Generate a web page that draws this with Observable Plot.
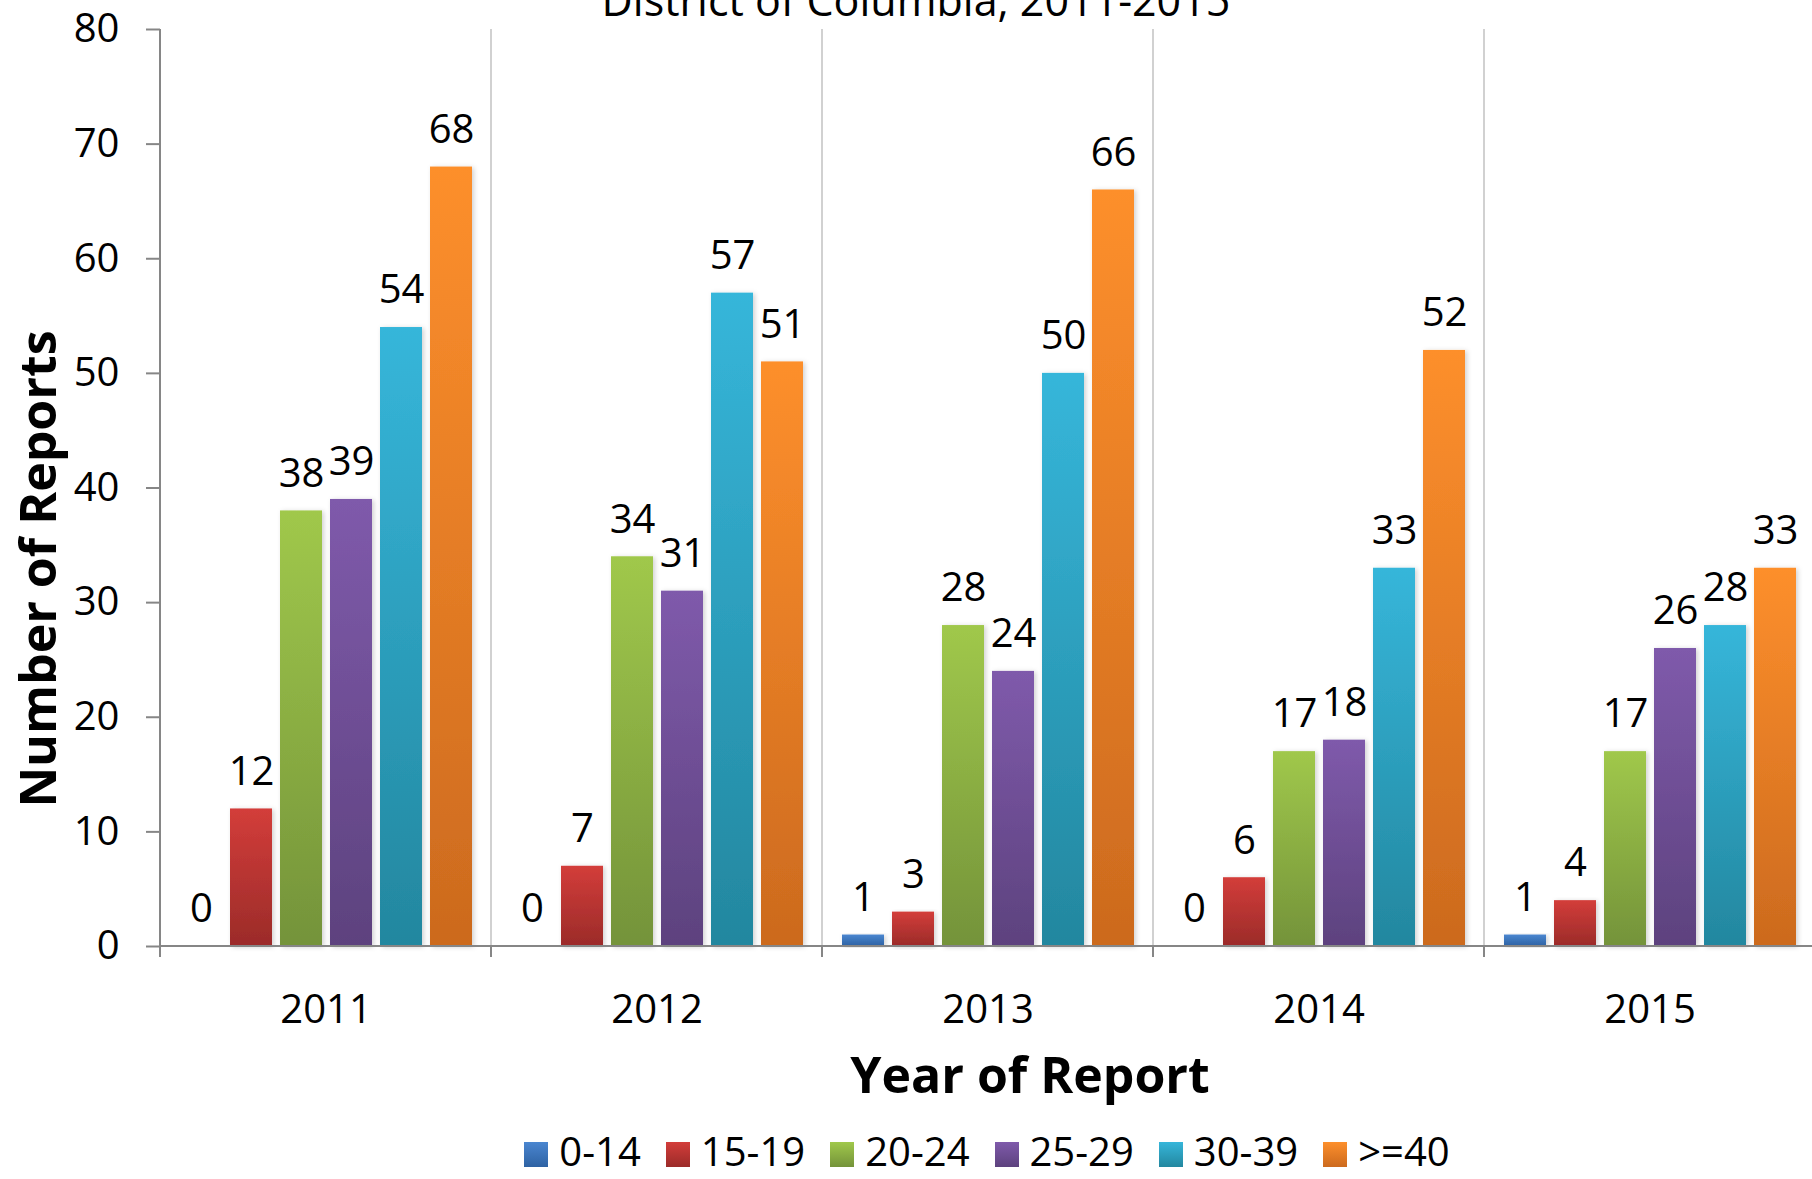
<!DOCTYPE html>
<html>
<head>
<meta charset="utf-8">
<script src="https://cdn.jsdelivr.net/npm/d3@7"></script>
<script src="https://cdn.jsdelivr.net/npm/@observablehq/plot@0.6"></script>
<style>
html, body { margin: 0; padding: 0; background: #fff; overflow: hidden; }
#wrap { position: relative; width: 1812px; height: 1179px; font-family: "Open Sans", sans-serif; color: #000; overflow: hidden; }
#wrap svg { position: absolute; left: 0; top: 0; overflow: visible; }
.ov { position: absolute; white-space: nowrap; text-align: center; }
#title { left: 0; width: 1832px; top: -22px; font-size: 43px; line-height: 43px; font-weight: 400; }
#xtitle { left: 530px; width: 1000px; top: 1049px; font-size: 50px; line-height: 50px; font-weight: 700; }
#ytitle { left: -363px; width: 800px; top: 539px; height: 60px; font-size: 50px; line-height: 60px; font-weight: 700; transform: rotate(-90deg); transform-origin: 50% 50%; }
#legend { left: 0; width: 1974px; top: 1131px; height: 40px; display: flex; justify-content: center; align-items: center; font-size: 40px; line-height: 40px; }
.item { display: flex; align-items: center; margin: 0 12.5px; }
.sw { width: 24px; height: 25px; margin-right: 11px; position: relative; top: 3px; }
#wrap svg [aria-label="y-axis"] line,
#wrap svg [aria-label="y-axis tick"] path { stroke: #868686; stroke-width: 2px; }
#wrap svg [aria-label="bar"] rect { filter: url(#barShadow); }
</style>
</head>
<body>
<div id="wrap"></div>
<script>
// ---- data ----
const years = ["2011", "2012", "2013", "2014", "2015"];
const ageGroups = ["0-14", "15-19", "20-24", "25-29", "30-39", ">=40"];
const v0_14  = [0, 0, 1, 0, 1];
const v15_19 = [12, 7, 3, 6, 4];
const v20_24 = [38, 34, 28, 17, 17];
const v25_29 = [39, 31, 24, 18, 26];
const v30_39 = [54, 57, 50, 33, 28];
const v40up  = [68, 51, 66, 52, 33];
const yTicks = [0, 10, 20, 30, 40, 50, 60, 70, 80];
const topColors    = ["#4a86d0", "#d33d3a", "#a0c84b", "#7f5aab", "#36b6da", "#fd8f2c"];
const bottomColors = ["#2e62a3", "#9b2b29", "#74933a", "#5d427e", "#23879f", "#cc6a1e"];
const titleText = "District of Columbia, 2011-2015";
const xTitleText = "Year of Report";
const yTitleText = "Number of Reports";

const series = [v0_14, v15_19, v20_24, v25_29, v30_39, v40up];
const data = [];
years.forEach((yr, i) => ageGroups.forEach((g, j) => data.push({year: yr, age: g, value: series[j][i]})));
const gradUrls = ageGroups.map((_, i) => `url(#grad${i})`);

// ---- frame decorations drawn from the plot's own scales ----
let backCount = 0, frontCount = 0;
function decorBack(index, scales) {
  if (!scales || !scales.x || !scales.y || !scales.x.range) return null;
  const [r0] = d3.extent(scales.x.range());
  const y0 = scales.y(0), y1 = scales.y(yTicks[yTicks.length - 1]);
  const k = backCount++;
  const g = d3.create("svg:g");
  g.append("line")
    .attr("x1", r0).attr("x2", r0).attr("y1", y1).attr("y2", y0)
    .attr("stroke", k === 0 ? "#868686" : "#c6c6c6")
    .attr("stroke-width", k === 0 ? 2 : 1.6);
  return g.node();
}
function decorFront(index, scales) {
  if (!scales || !scales.x || !scales.y || !scales.x.range) return null;
  const [r0, r1] = d3.extent(scales.x.range());
  const y0 = scales.y(0);
  frontCount++;
  const g = d3.create("svg:g").attr("stroke", "#868686").attr("stroke-width", 2);
  g.append("line").attr("x1", r0).attr("x2", r1 + 1).attr("y1", y0).attr("y2", y0);
  g.append("line").attr("x1", r0).attr("x2", r0).attr("y1", y0).attr("y2", y0 + 11);
  return g.node();
}

const chart = Plot.plot({
  width: 1812,
  height: 1179,
  marginLeft: 158,
  marginRight: -4,
  marginTop: 29,
  marginBottom: 233,
  style: {fontFamily: "Open Sans, sans-serif", fontSize: "40px", color: "#000", background: "transparent"},
  fx: {domain: years, padding: 0, tickSize: 0, tickPadding: 48, label: null},
  x: {domain: ageGroups, paddingInner: 0.16, paddingOuter: 0.387, axis: null},
  y: {domain: [0, 80], ticks: yTicks, tickSize: 14, tickPadding: 27, label: null},
  color: {domain: ageGroups, range: gradUrls},
  marks: [
    decorBack,
    Plot.barY(data, {fx: "year", x: "age", y: "value", fill: "age"}),
    decorFront,
    Plot.text(data, {fx: "year", x: "age", y: "value", text: d => String(d.value), dy: -37, fontSize: 40, fill: "#000"})
  ]
});

// gradients & shadow
const svgSel = d3.select(chart.tagName.toLowerCase() === "svg" ? chart : chart.querySelector("svg"));
const defs = svgSel.insert("defs", ":first-child");
ageGroups.forEach((g, i) => {
  const lg = defs.append("linearGradient").attr("id", `grad${i}`)
    .attr("x1", 0).attr("y1", 0).attr("x2", 0).attr("y2", 1);
  lg.append("stop").attr("offset", "0%").attr("stop-color", topColors[i]);
  lg.append("stop").attr("offset", "100%").attr("stop-color", bottomColors[i]);
});
const f = defs.append("filter").attr("id", "barShadow").attr("x", "-20%").attr("y", "-5%").attr("width", "150%").attr("height", "115%");
f.append("feDropShadow").attr("dx", 2).attr("dy", 1).attr("stdDeviation", 2.5).attr("flood-color", "#000").attr("flood-opacity", 0.18);

const wrap = document.getElementById("wrap");
wrap.appendChild(chart);

function addDiv(id, text) {
  const d = document.createElement("div");
  d.id = id; d.className = "ov"; d.textContent = text;
  wrap.appendChild(d);
  return d;
}
addDiv("title", titleText);
addDiv("xtitle", xTitleText);
addDiv("ytitle", yTitleText);

const legend = document.createElement("div");
legend.id = "legend"; legend.className = "ov";
ageGroups.forEach((g, i) => {
  const it = document.createElement("div"); it.className = "item";
  const sw = document.createElement("div"); sw.className = "sw";
  sw.style.background = `linear-gradient(to bottom, ${topColors[i]}, ${bottomColors[i]})`;
  const tx = document.createElement("span"); tx.textContent = g;
  it.appendChild(sw); it.appendChild(tx);
  legend.appendChild(it);
});
wrap.appendChild(legend);
</script>
</body>
</html>
